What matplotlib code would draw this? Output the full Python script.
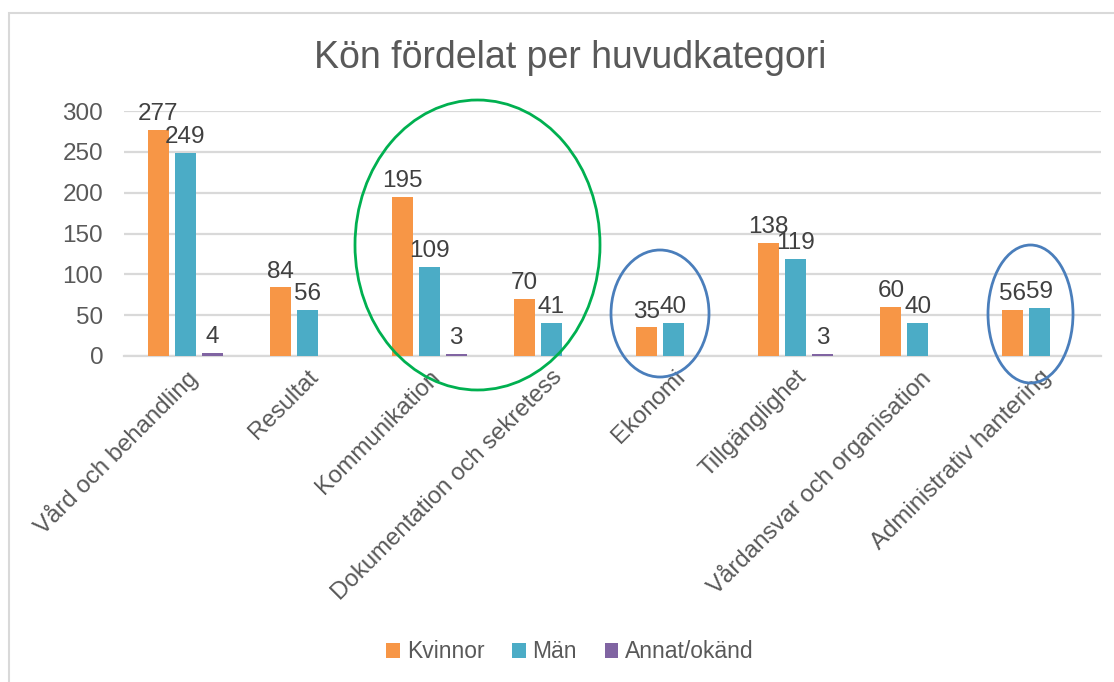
import numpy as np
import matplotlib
matplotlib.use("Agg")
import matplotlib.pyplot as plt
from matplotlib.patches import Ellipse, Rectangle

plt.rcParams['font.family'] = ['Liberation Sans', 'DejaVu Sans']

categories = ["Vård och behandling", "Resultat", "Kommunikation",
              "Dokumentation och sekretess", "Ekonomi", "Tillgänglighet",
              "Vårdansvar och organisation", "Administrativ hantering"]
kvinnor = [277, 84, 195, 70, 35, 138, 60, 56]
man = [249, 56, 109, 41, 40, 119, 40, 59]
annat = [4, np.nan, 3, np.nan, np.nan, 3, np.nan, np.nan]
series_names = ["Kvinnor", "Män", "Annat/okänd"]
yticks = [0, 50, 100, 150, 200, 250, 300]
title = "Kön fördelat per huvudkategori"

colors = ["#F79646", "#4BACC6", "#8064A2"]
txt = "#595959"
grid = "#D9D9D9"

W, H = 1114, 682
fig = plt.figure(figsize=(W / 100, H / 100), dpi=100)
ax = fig.add_axes([124 / W, 326 / H, (1101 - 124) / W, 245 / H])

x = np.arange(len(categories))
bw = 0.172
step = 0.221
for k, (vals, name, c) in enumerate(zip([kvinnor, man, annat], series_names, colors)):
    vals = np.array(vals, dtype=float)
    mask = ~np.isnan(vals)
    xs = x[mask] + (k - 1) * step
    ax.bar(xs, vals[mask], width=bw, color=c, label=name, zorder=3)
    for xi, v in zip(xs, vals[mask]):
        ax.annotate(f"{int(v)}", (xi, v), xytext=(0, 3.5), textcoords="offset points",
                    ha="center", va="bottom", fontsize=17.5, color="#404040", zorder=4)

ax.set_xlim(-0.5, len(categories) - 0.5)
ax.set_ylim(0, 300)
ax.set_yticks(yticks)
ax.set_yticklabels([str(t) for t in yticks], fontsize=17.5, color=txt)
ax.set_xticks(x)
ax.set_xticklabels(categories, rotation=45, ha="right", va="top",
                   rotation_mode="anchor", fontsize=17.3, color=txt)
ax.tick_params(axis="y", length=0, pad=15)
ax.tick_params(axis="x", length=0, pad=7)
ax.grid(axis="y", color=grid, linewidth=1.6, zorder=0)
for s in ["top", "right", "left"]:
    ax.spines[s].set_visible(False)
ax.spines["bottom"].set_color(grid)
ax.spines["bottom"].set_linewidth(1.6)

fig.text(570 / W, 1 - 58 / H, title, ha="center", va="center", fontsize=27, color=txt)

leg = fig.legend(loc="center", bbox_to_anchor=(570 / W, 1 - 652 / H), ncol=3,
                 frameon=False, fontsize=16.5, handlelength=0.6, handleheight=0.6,
                 handletextpad=0.3, columnspacing=1.2)
for t in leg.get_texts():
    t.set_color(txt)

# annotation ellipses
def ell(cx, cy, w, h, col):
    fig.patches.append(Ellipse((cx / W, 1 - cy / H), w / W, h / H, fill=False,
                               edgecolor=col, linewidth=2, transform=fig.transFigure,
                               zorder=10))

ell(477.5, 245, 245, 290, "#00B050")
ell(660, 313.5, 98, 127, "#4A7EBB")
ell(1030.5, 314, 85, 138, "#4A7EBB")

# chart border
fig.patches.append(Rectangle((9 / W, -0.05), 1.2, 1 - 13 / H + 0.05, fill=False,
                             edgecolor=grid, linewidth=1.5, transform=fig.transFigure))

fig.savefig("out.png", dpi=100)
